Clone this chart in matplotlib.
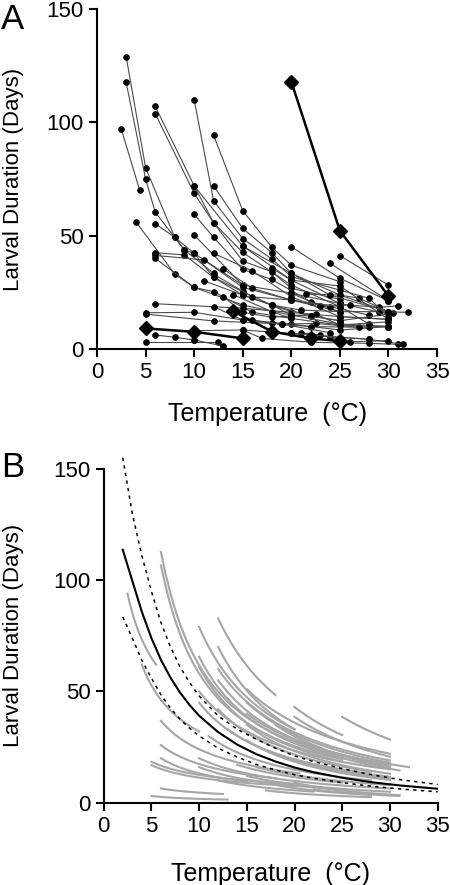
import numpy as np
import matplotlib.pyplot as plt

plt.rcParams['font.family'] = ['Liberation Sans', 'DejaVu Sans']

# panel A: measured larval duration (days) vs temperature (C), one list per species
a_temps = [
    [3, 5, 8, 10, 15], [3, 5, 6, 9, 12], [2.5, 4.4], [4, 8, 10, 15, 20],
    [6, 10, 15, 20, 25], [6, 10, 12, 15, 20, 25], [10, 12, 15, 18, 20],
    [12, 15, 18, 20, 25], [6, 8, 9, 10, 12, 15], [6, 9, 12, 15, 20],
    [6, 11, 15, 20, 25], [6, 10, 12, 16, 20], [6, 15, 25, 30],
    [5, 10, 15, 20, 25, 30], [5, 12, 18, 22, 28], [6, 8, 10], [5, 12.5],
    [10, 13], [10, 12, 15, 18, 20, 25], [10, 12, 15, 18, 22, 25],
    [12, 15, 18, 20, 25, 30], [10, 15, 20, 25, 30], [12, 16, 20, 25, 30],
    [13, 16, 20, 24, 28], [11, 15, 18, 22, 25], [13, 15, 18, 22.5, 25, 30],
    [20, 25, 30], [25, 30], [24, 30], [15, 17, 22, 28, 31],
    [20, 24, 28, 31.5], [21, 23, 26, 30], [16, 19, 22.5, 27, 30],
    [20, 22, 25, 30.5], [18, 21, 25, 29, 32], [20, 23, 26, 29, 31],
    [21.5, 25, 27, 30], [20, 25, 28, 30], [18, 20, 25, 30], [15, 20, 24, 30],
    [12, 15, 19, 24], [10, 15, 20, 28], [15, 18, 20, 25, 30],
    [12, 16, 20, 25, 28], [14, 18, 20, 25, 30],
]
a_days = [
    [129, 80, 49.3, 42.2, 28.2], [117.6, 75, 60.3, 43.7, 33.4], [97, 70],
    [56.2, 33, 27.2, 19.4, 15], [107, 72, 45.4, 30.4, 20.1],
    [103.8, 68.7, 55.7, 42.6, 28.2, 18.7], [110, 65.4, 48.7, 39.7, 31.9],
    [94.3, 61, 44.9, 37, 29.7], [55.3, 49.3, 43.7, 42.2, 31.6, 25.3],
    [42.5, 41.5, 31.6, 23.8, 16.5], [41.3, 39.3, 27.2, 21.6, 16.5],
    [40, 27.2, 25.3, 16.2, 13.5], [20, 18, 14.3, 13.1],
    [16, 16.2, 12.8, 11, 8.4, 9.9], [15.4, 12.4, 11.3, 9.9, 9.6],
    [6.2, 5.2, 4.0], [3, 3], [4, 1.3], [72, 55.7, 38.8, 34.1, 26.8, 21.9],
    [59.4, 49.3, 35.1, 30.7, 20.9, 16.5], [72, 53.2, 42.5, 33.4, 23.8, 16.5],
    [50.3, 28.2, 24.6, 20.1, 15.4], [42.2, 34.4, 23.1, 14.3, 13.1],
    [35.3, 26.8, 21.6, 18.7, 15], [30.1, 23.8, 19.4, 14.6, 12.5],
    [23.1, 16.2, 14, 15.4, 10.6, 9.9], [45.1, 31.2, 21.3], [41.2, 28.2],
    [37.8, 21.3], [8.4, 4.7, 3, 2.5, 2.1], [6.9, 5.4, 4.3, 2.1],
    [7.2, 6.2, 3.2, 3.7], [12.8, 11, 11.3, 9.6, 9.9], [15, 14.6, 12.5, 15.7],
    [19.4, 17.2, 16.5, 16.5, 16.2], [24.6, 19, 19.4, 18.4, 19.1],
    [24.3, 23.8, 22.4, 16.5], [31.9, 26, 22.4, 14.3], [35.6, 30.4, 27.8, 13.1],
    [45.4, 33.4, 23.8, 16.5], [18.7, 12.8, 11, 7.2], [8.1, 8.4, 6.9, 4.3],
    [25.3, 19.4, 15, 11, 10], [33, 23, 21.6, 18.7, 11], [24, 16.5, 13.5, 10.6, 12],
]

# species highlighted with diamonds
diamond_temps = [[20, 25, 30], [5, 10, 15], [14, 18, 22, 25]]
diamond_days = [[118, 52.2, 23.4], [9.1, 7.6, 4.7], [16.7, 7.7, 4.7, 3.5]]

# panel B: per-species fitted curves (start/end temperature and duration)
b_t_start = [2.5, 4, 6, 6, 6, 6, 5, 5, 6, 5, 10, 10, 10, 12, 12, 20, 25, 20,
             15, 12, 10, 12, 15, 15, 18, 12, 10, 15, 20, 20, 13, 11, 15, 18,
             16, 10, 10, 15, 20, 18, 22, 17, 12, 6, 14]
b_t_end = [5.5, 10, 25, 25, 20.5, 18, 20, 20, 12.5, 13, 20, 25, 25, 18, 20,
           25, 30, 30, 30, 30, 30, 30, 30, 32, 30, 28, 28, 30, 30, 31, 30, 28,
           30, 30, 30, 30, 25, 30, 31, 28, 31, 28, 22, 15, 25]
b_d_start = [94, 62, 112.7, 106.7, 36.8, 25.9, 18.4, 16.9, 6.4, 3.0, 79, 65.6,
             61, 82.8, 70, 43, 38.6, 38.6, 51, 60, 50, 55, 45, 40, 35, 42, 45,
             35, 30, 28, 33, 30, 28, 22, 16, 20, 16, 12, 9, 8, 6, 5.5, 10, 20, 17]
b_d_end = [62, 32, 21, 19.5, 13.2, 11, 8.5, 7.5, 3.9, 1.4, 33, 20, 18.5, 48.4,
           33, 30.4, 28.4, 20.7, 22, 19, 15, 17, 18, 16, 16, 14, 13, 13, 16,
           14.5, 11.7, 10, 10.2, 11, 7.9, 6.4, 6, 4.9, 3.4, 3.5, 3.0, 2.5, 5,
           9.5, 9]

# panel B: overall fit and its confidence band, read at these temperatures
fit_temps = [2, 3, 4, 5, 6, 7, 8, 9, 10, 12, 14, 16, 18, 20, 22, 25, 28, 31, 35]
fit_days = [113.7, 99.7, 85.8, 74.0, 64.2, 56.2, 49.5, 43.9, 39.1, 31.7, 26.1,
            21.8, 18.5, 15.8, 13.7, 11.2, 9.25, 7.77, 6.26]
upper_days = [155, 130, 111, 95, 81, 70, 61, 54, 48, 39, 33, 28.5, 24.5, 21,
              18.5, 15.3, 12.6, 10.4, 8.2]
lower_days = [83.5, 74, 64, 56, 48.5, 42.5, 37.5, 33.5, 30, 24.5, 20.5, 17.2,
              14.7, 12.6, 11, 9, 7.4, 6.2, 4.9]


def style_axis(ax, xlab_y, ylab_x):
    ax.set_xlim(0, 35)
    ax.set_ylim(0, 150)
    ax.set_xticks(range(0, 36, 5))
    ax.set_yticks([0, 50, 100, 150])
    for side in ['top', 'right']:
        ax.spines[side].set_visible(False)
    for side in ['left', 'bottom']:
        ax.spines[side].set_linewidth(1.5)
    ax.tick_params(direction='out', length=5.5, width=1.5, labelsize=16, pad=4)
    ax.set_xlabel('Temperature  (°C)', fontsize=18)
    ax.set_ylabel('Larval Duration (Days)', fontsize=16)
    ax.xaxis.set_label_coords(0.5, xlab_y)
    ax.yaxis.set_label_coords(ylab_x, 0.5)


fig = plt.figure(figsize=(4.5, 8.85), dpi=100)
ax_a = fig.add_axes([0.2156, 0.6056, 0.7556, 0.3842])
ax_b = fig.add_axes([0.2304, 0.0930, 0.7422, 0.3771])

# panel A
for t, d in zip(a_temps, a_days):
    ax_a.plot(t, d, color='#4a4a4a', lw=0.8, marker='o', ms=3.8,
              mfc='black', mec='black', clip_on=False, zorder=3)
for t, d in zip(diamond_temps, diamond_days):
    ax_a.plot(t, d, color='black', lw=1.8, marker='D', ms=7.5,
              clip_on=False, zorder=4)
style_axis(ax_a, -0.156, -0.215)

# panel B: species curves drawn as power laws between their end points
for t0, t1, d0, d1 in zip(b_t_start, b_t_end, b_d_start, b_d_end):
    tt = np.linspace(t0, t1, 40)
    k = np.log(d1 / d0) / np.log(t1 / t0)
    ax_b.plot(tt, d0 * (tt / t0) ** k, color='#a6a6a6', lw=1.5, zorder=2)

ax_b.plot(fit_temps, fit_days, color='black', lw=1.5, zorder=4)
ax_b.plot(fit_temps, upper_days, color='black', lw=1.1, ls=(0, (2.2, 2.8)),
          clip_on=False, zorder=3)
ax_b.plot(fit_temps, lower_days, color='black', lw=1.1, ls=(0, (2.2, 2.8)),
          zorder=3)
style_axis(ax_b, -0.178, -0.239)

fig.text(0.002, 0.997, 'A', fontsize=25, va='top', ha='left')
fig.text(0.002, 0.490, 'B', fontsize=25, va='top', ha='left')

fig.savefig('out.png', dpi=100)
